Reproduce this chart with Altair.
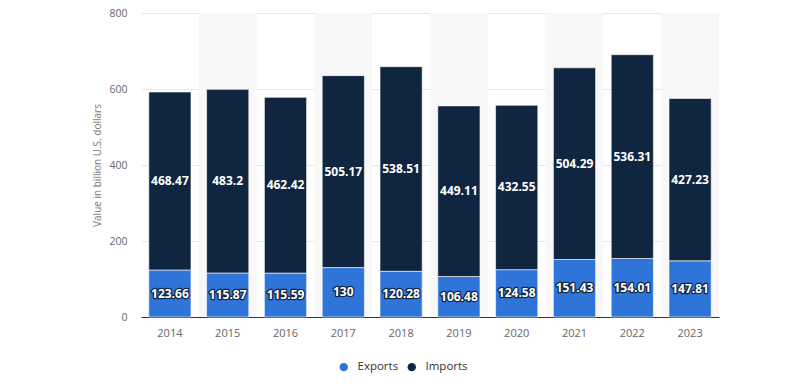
import altair as alt
import pandas as pd

years = ["2014", "2015", "2016", "2017", "2018", "2019", "2020", "2021", "2022", "2023"]
exports = [123.66, 115.87, 115.59, 130, 120.28, 106.48, 124.58, 151.43, 154.01, 147.81]
imports = [468.47, 483.2, 462.42, 505.17, 538.51, 449.11, 432.55, 504.29, 536.31, 427.23]
series = ["Exports", "Imports"]
colors = ["#2f74d8", "#0f2540"]
shaded_years = ["2015", "2017", "2019", "2021", "2023"]

rows = []
for i, y in enumerate(years):
    rows.append({"year": y, "series": "Exports", "value": exports[i], "ord": 0})
    rows.append({"year": y, "series": "Imports", "value": imports[i], "ord": 1})
df = pd.DataFrame(rows)
bg = pd.DataFrame({"year": shaded_years, "top": [800] * len(shaded_years)})

pin = 0.27
xscale = alt.Scale(domain=years, paddingInner=pin, paddingOuter=pin / 2)
yscale = alt.Scale(domain=[0, 800])

xenc = alt.X("year:N", scale=xscale, sort=years,
             axis=alt.Axis(title=None, labelAngle=0, ticks=False, labelColor="#666666",
                           labelFontSize=11, labelPadding=10, domainColor="#333333",
                           labelFont="Open Sans"))

background = alt.Chart(bg).mark_bar(color="#f8f8f8", width=alt.RelativeBandSize(1 / (1 - pin))).encode(
    x=xenc,
    y=alt.Y("top:Q", scale=yscale),
)

bars = alt.Chart(df).mark_bar(stroke="white", strokeWidth=0.6).encode(
    x=xenc,
    y=alt.Y("value:Q", stack="zero", scale=yscale,
            axis=alt.Axis(title="Value in billion U.S. dollars", values=[0, 200, 400, 600, 800],
                          ticks=False, domain=False, gridColor="#e6e6e6", labelColor="#666666",
                          labelFontSize=10.5, labelPadding=14, titleColor="#777777",
                          titleFontSize=10, titleFontWeight="normal", titlePadding=6,
                          labelFont="Open Sans", titleFont="Open Sans")),
    color=alt.Color("series:N", scale=alt.Scale(domain=series, range=colors),
                    legend=alt.Legend(title=None, orient="none", direction="horizontal",
                                      legendX=197, legendY=348, symbolType="circle",
                                      symbolSize=70, labelFontSize=11.5, labelColor="#333333",
                                      labelFont="Open Sans", columnPadding=7, labelOffset=8,
                                      symbolStrokeWidth=0)),
    order=alt.Order("ord:Q", sort="ascending"),
)

base_text = alt.Chart(df).transform_stack(
    stack="value", as_=["v0", "v1"], groupby=["year"], sort=[alt.SortField("ord", order="ascending")]
).transform_calculate(mid="(datum.v0 + datum.v1) / 2")

halo = base_text.mark_text(fontSize=12, fontWeight="bold", color="#0f2540", stroke="#0f2540",
                           strokeWidth=2.5, strokeJoin="round", font="Open Sans").encode(
    x=alt.X("year:N", scale=xscale, sort=years),
    y=alt.Y("mid:Q", scale=yscale),
    text=alt.Text("value:Q"),
)
labels = base_text.mark_text(fontSize=12, fontWeight="bold", color="white", font="Open Sans").encode(
    x=alt.X("year:N", scale=xscale, sort=years),
    y=alt.Y("mid:Q", scale=yscale),
    text=alt.Text("value:Q"),
)

chart = alt.layer(background, bars, halo, labels).properties(
    width=578, height=304,
    autosize=alt.AutoSizeParams(type="none"),
    padding={"left": 133, "top": 5, "right": 10, "bottom": 60},
).configure_view(stroke=None)

chart.save("out.html", embed_options={"renderer": "svg", "actions": False})
